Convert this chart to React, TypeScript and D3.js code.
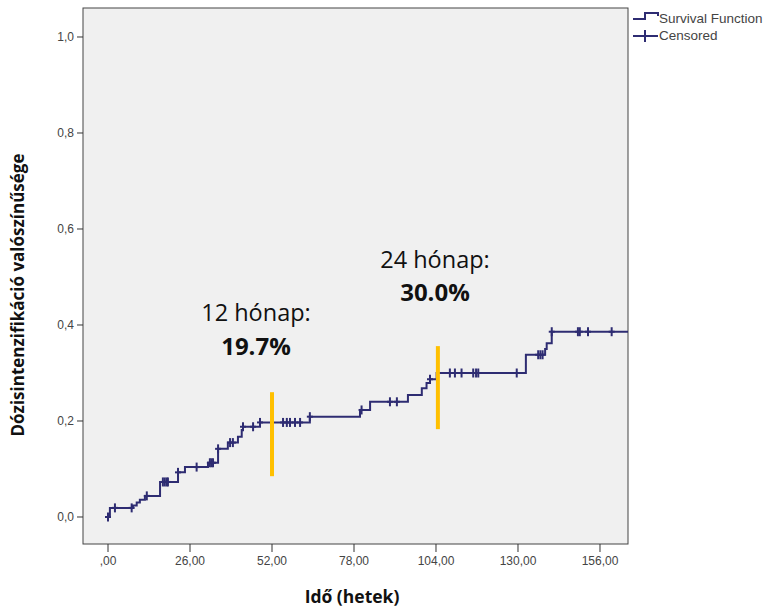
import React from "react";
import * as d3 from "d3";

const stepTimes = [0, 0.6, 7.9, 9.1, 10.1, 11.7, 16.5, 22.2, 24.4, 31.7, 34.9, 38.0, 41.2, 42.4, 42.8, 48.2, 64.0, 79.9, 83.1, 95.1, 99.5, 101.0, 102.1, 104.2, 132.5, 138.6, 139.1, 140.7];
const stepValues = [0, 0.019, 0.024, 0.030, 0.036, 0.044, 0.073, 0.093, 0.104, 0.113, 0.142, 0.155, 0.167, 0.181, 0.188, 0.197, 0.209, 0.223, 0.240, 0.254, 0.268, 0.279, 0.287, 0.300, 0.338, 0.350, 0.362, 0.386];
const censoredTimes = [0, 2.2, 7.5, 12.3, 17.4, 18.0, 18.6, 19.0, 22.2, 28.1, 32.3, 32.8, 33.3, 34.9, 38.7, 39.6, 42.8, 46.0, 48.2, 55.5, 56.7, 57.7, 59.3, 60.9, 64.0, 80.4, 89.4, 91.6, 102.1, 108.4, 110.0, 112.1, 115.8, 116.7, 117.4, 129.6, 136.4, 137.1, 137.8, 140.7, 149.0, 149.6, 152.2, 159.7];
const endTime = 165;
const xTicks = [0, 26, 52, 78, 104, 130, 156];
const xTickLabels = [",00", "26,00", "52,00", "78,00", "104,00", "130,00", "156,00"];
const yTicks = [0, 0.2, 0.4, 0.6, 0.8, 1.0];
const yTickLabels = ["0,0", "0,2", "0,4", "0,6", "0,8", "1,0"];
const markerTimes = [52, 104.6];
const markerLabels = ["12 hónap:", "24 hónap:"];
const markerValues = ["19.7%", "30.0%"];

export default function App() {
  const left = 83, right = 628, top = 8, bottom = 544;
  const x = d3.scaleLinear().domain([-7.93, 164.88]).range([left, right]);
  const y = d3.scaleLinear().domain([-0.05625, 1.0604]).range([bottom, top]);

  const pts: [number, number][] = stepTimes.map((t, i) => [t, stepValues[i]]);
  pts.push([Math.min(endTime, 164.88), stepValues[stepValues.length - 1]]);
  const line = d3.line<[number, number]>().x(d => x(d[0])).y(d => y(d[1])).curve(d3.curveStepAfter);

  const valueAt = (t: number) => {
    let v = 0;
    for (let i = 0; i < stepTimes.length; i++) if (stepTimes[i] <= t) v = stepValues[i];
    return v;
  };

  const navy = "#2e2c72";
  const orange = "#ffc000";
  const tickFont = "'Liberation Sans', Arial, sans-serif";
  const annFont = "'Open Sans', sans-serif";

  const annPos = [
    { lx: 256, ly: 321, vy: 355, y1: 0.085, y2: 0.26 },
    { lx: 435, ly: 268, vy: 301, y1: 0.183, y2: 0.356 },
  ];

  return (
    <svg width={773} height={607} style={{ position: "absolute", left: 0, top: 0, background: "#fff" }}>
      <rect x={left} y={top} width={right - left} height={bottom - top} fill="#f0f0f0" stroke="#444" strokeWidth={1} />
      {yTicks.map((v, i) => (
        <g key={"y" + i}>
          <line x1={left - 6} x2={left} y1={y(v)} y2={y(v)} stroke="#333" strokeWidth={1} />
          <text x={left - 9} y={y(v) + 4} textAnchor="end" fontSize={12} fontFamily={tickFont} fill="#444">{yTickLabels[i]}</text>
        </g>
      ))}
      {xTicks.map((v, i) => (
        <g key={"x" + i}>
          <line x1={x(v)} x2={x(v)} y1={bottom} y2={bottom + 8} stroke="#333" strokeWidth={1} />
          <text x={x(v)} y={bottom + 21} textAnchor="middle" fontSize={12} fontFamily={tickFont} fill="#444">{xTickLabels[i]}</text>
        </g>
      ))}
      <path d={line(pts) || ""} fill="none" stroke={navy} strokeWidth={2} />
      {censoredTimes.map((t, i) => {
        const cx = x(t), cy = y(valueAt(t));
        return (
          <g key={"c" + i} stroke={navy} strokeWidth={2}>
            <line x1={cx} x2={cx} y1={cy - 4.5} y2={cy + 4.5} />
            <line x1={cx - 3} x2={cx + 3} y1={cy} y2={cy} />
          </g>
        );
      })}
      {markerTimes.map((t, i) => (
        <line key={"m" + i} x1={x(t)} x2={x(t)} y1={y(annPos[i].y1)} y2={y(annPos[i].y2)} stroke={orange} strokeWidth={4} />
      ))}
      {markerLabels.map((s, i) => (
        <g key={"a" + i}>
          <text x={annPos[i].lx} y={annPos[i].ly} textAnchor="middle" fontSize={23.5} fontFamily={annFont} fill="#111">{s}</text>
          <text x={annPos[i].lx} y={annPos[i].vy} textAnchor="middle" fontSize={24} fontWeight="bold" fontFamily={annFont} fill="#111">{markerValues[i]}</text>
        </g>
      ))}
      <path d="M633,19 H645 V13 H658 V16" fill="none" stroke={navy} strokeWidth={2} />
      <text x={659} y={23} fontSize={13.5} fontFamily={tickFont} fill="#444">Survival Function</text>
      <line x1={633} x2={658} y1={36} y2={36} stroke={navy} strokeWidth={2} />
      <line x1={645} x2={645} y1={30} y2={42} stroke={navy} strokeWidth={2} />
      <text x={659} y={40} fontSize={13.5} fontFamily={tickFont} fill="#444">Censored</text>
      <text x={352} y={603} textAnchor="middle" fontSize={17.5} fontWeight="bold" fontFamily={annFont} fill="#111">Idő (hetek)</text>
      <text transform="translate(24,295) rotate(-90)" textAnchor="middle" fontSize={17} fontWeight="bold" fontFamily={annFont} fill="#111">Dózisintenzifikáció valószínűsége</text>
    </svg>
  );
}
